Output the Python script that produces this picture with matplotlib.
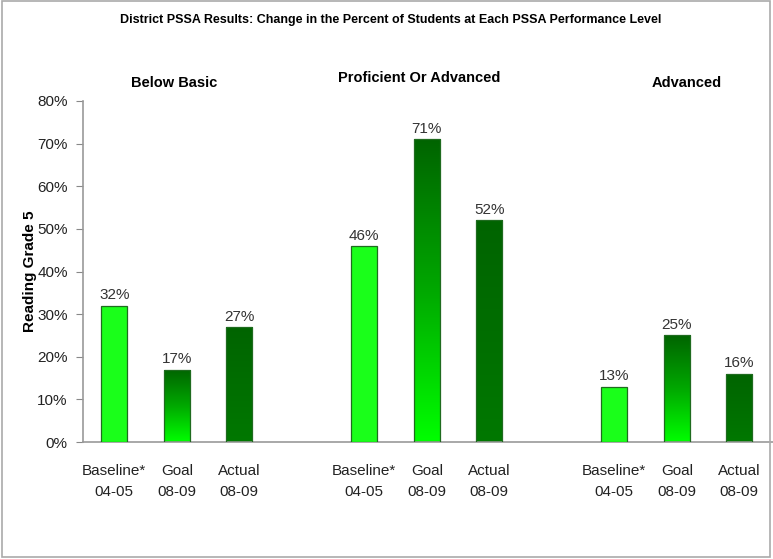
import numpy as np
import matplotlib.pyplot as plt
from matplotlib.patches import Rectangle
from matplotlib.colors import LinearSegmentedColormap

plt.rcParams["font.family"] = ["Liberation Sans", "DejaVu Sans"]

# data
groups = ["Below Basic", "Proficient Or Advanced", "Advanced"]
kinds = ["Baseline*\n04-05", "Goal\n08-09", "Actual\n08-09"]
baseline = [32, 46, 13]
goal = [17, 71, 25]
actual = [27, 52, 16]
yticks = [0, 10, 20, 30, 40, 50, 60, 70, 80]

fig = plt.figure(figsize=(7.73, 5.59), dpi=100)
ax = fig.add_axes([83 / 773, 117 / 559, 690 / 773, 341 / 559])

bar_w = 0.42
edge = "#1f6b1f"
goal_cmap = LinearSegmentedColormap.from_list("goal", ["#00ff00", "#00a800", "#006400"])
actual_cmap = LinearSegmentedColormap.from_list("actual", ["#007800", "#006400"])

xpos, labels = [], []
for g in range(len(groups)):
    base = g * 4
    vals = [baseline[g], goal[g], actual[g]]
    for k, v in enumerate(vals):
        x = base + k
        xpos.append(x)
        labels.append(kinds[k])
        rect = Rectangle((x - bar_w / 2, 0), bar_w, v, facecolor="none",
                         edgecolor=edge, lw=0.9, zorder=3)
        ax.add_patch(rect)
        if k == 0:
            rect.set_facecolor("#1aff1a")
        else:
            cmap = goal_cmap if k == 1 else actual_cmap
            grad = np.linspace(0, 1, 256).reshape(-1, 1)
            im = ax.imshow(grad, cmap=cmap, origin="lower", aspect="auto",
                           extent=(x - bar_w / 2, x + bar_w / 2, 0, v), zorder=2)
            im.set_clip_path(rect)
        ax.text(x, v + 0.8, f"{v}%", ha="center", va="bottom", fontsize=11,
                color="#333333", zorder=4)

ax.set_xlim(-0.5, 10.54)
ax.set_ylim(0, 80)
ax.set_yticks(yticks)
ax.set_yticklabels([f"{t}%" for t in yticks], fontsize=11, color="#222222")
ax.set_xticks(xpos)
ax.set_xticklabels(labels, fontsize=11, color="#222222", linespacing=1.6)
ax.tick_params(axis="x", length=0, pad=16)
ax.tick_params(axis="y", length=5, color="#888888", pad=6)
for s in ["top", "right"]:
    ax.spines[s].set_visible(False)
for s in ["left", "bottom"]:
    ax.spines[s].set_color("#999999")
    ax.spines[s].set_linewidth(1.2)
ax.set_ylabel("Reading Grade 5", fontsize=11, fontweight="bold", labelpad=0)

narrow = ["Liberation Sans Narrow", "Liberation Sans", "DejaVu Sans"]
fig.text(391 / 773, 1 - 20 / 559,
         "District PSSA Results: Change in the Percent of Students at Each PSSA Performance Level",
         ha="center", va="center", fontsize=9, fontweight="bold", family=narrow)
group_xy = [(174, 83), (419, 78), (687, 83)]
for name, (gx, gy) in zip(groups, group_xy):
    fig.text(gx / 773, 1 - gy / 559, name, ha="center", va="center",
             fontsize=10.5, fontweight="bold", family=narrow)

fig.patches.append(Rectangle((2 / 773, 2 / 559), 768 / 773, 556 / 559,
                             transform=fig.transFigure, fill=False,
                             edgecolor="#aaaaaa", lw=1.2))

fig.savefig("out.png", dpi=100)
